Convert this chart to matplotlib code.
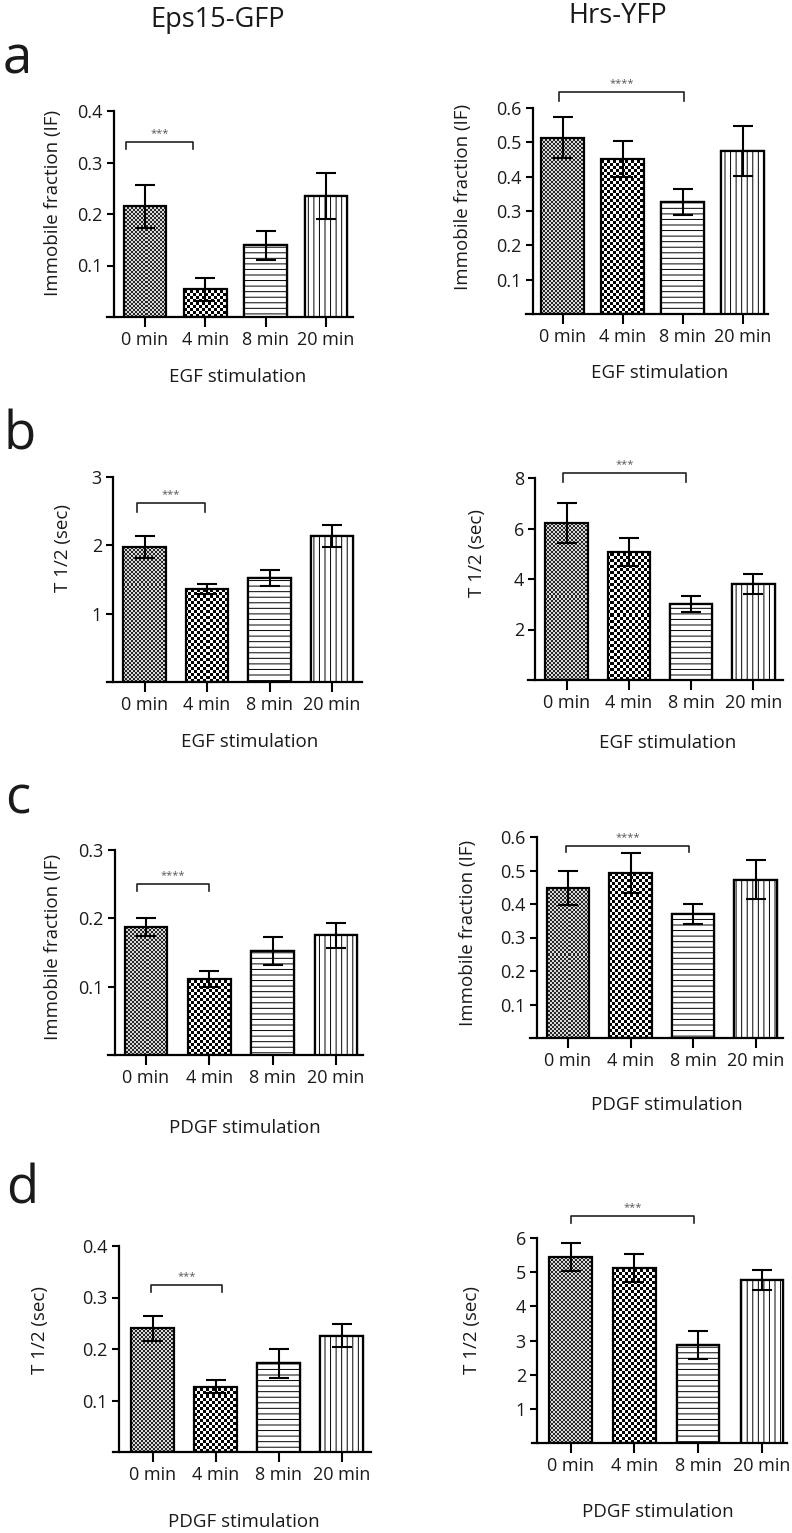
import numpy as np
import matplotlib
matplotlib.use('Agg')
import matplotlib.pyplot as plt

plt.rcParams['font.family'] = ['Open Sans', 'DejaVu Sans']
plt.rcParams['hatch.linewidth'] = 0.7

W, H = 792, 1533

categories = ['0 min', '4 min', '8 min', '20 min']

# panel a: immobile fraction, EGF
a_eps_mean = [0.215, 0.054, 0.139, 0.235]
a_eps_err = [0.042, 0.022, 0.028, 0.044]
a_hrs_mean = [0.513, 0.452, 0.327, 0.475]
a_hrs_err = [0.060, 0.053, 0.038, 0.073]
# panel b: T 1/2, EGF
b_eps_mean = [1.98, 1.36, 1.52, 2.14]
b_eps_err = [0.16, 0.07, 0.12, 0.16]
b_hrs_mean = [6.22, 5.07, 3.01, 3.80]
b_hrs_err = [0.78, 0.57, 0.32, 0.40]
# panel c: immobile fraction, PDGF
c_eps_mean = [0.187, 0.111, 0.152, 0.175]
c_eps_err = [0.013, 0.012, 0.020, 0.018]
c_hrs_mean = [0.448, 0.492, 0.370, 0.472]
c_hrs_err = [0.050, 0.060, 0.030, 0.058]
# panel d: T 1/2, PDGF
d_eps_mean = [0.240, 0.127, 0.172, 0.226]
d_eps_err = [0.025, 0.013, 0.028, 0.023]
d_hrs_mean = [5.44, 5.12, 2.87, 4.77]
d_hrs_err = [0.41, 0.42, 0.42, 0.30]

a_eps_ticks = [0.1, 0.2, 0.3, 0.4]
a_hrs_ticks = [0.1, 0.2, 0.3, 0.4, 0.5, 0.6]
b_eps_ticks = [1, 2, 3]
b_hrs_ticks = [2, 4, 6, 8]
c_eps_ticks = [0.1, 0.2, 0.3]
c_hrs_ticks = [0.1, 0.2, 0.3, 0.4, 0.5, 0.6]
d_eps_ticks = [0.1, 0.2, 0.3, 0.4]
d_hrs_ticks = [1, 2, 3, 4, 5, 6]

# significance brackets: x from, x to, bracket level, leg bottom, stars
a_eps_sig = (-0.32, 0.80, 0.340, 0.326, '***')
a_hrs_sig = (-0.06, 2.02, 0.647, 0.620, '****')
b_eps_sig = (-0.12, 0.96, 2.62, 2.49, '***')
b_hrs_sig = (-0.06, 1.92, 8.20, 7.84, '***')
c_eps_sig = (-0.14, 1.00, 0.250, 0.240, '****')
c_hrs_sig = (-0.03, 1.94, 0.573, 0.555, '****')
d_eps_sig = (-0.02, 1.10, 0.325, 0.310, '***')
d_hrs_sig = (0.00, 1.94, 6.64, 6.43, '***')

fig = plt.figure(figsize=(W / 100, H / 100), dpi=100)
TXT = '#1a1a1a'


def fx(x):
    return x / W


def fy(y):
    return 1 - y / H


def checker(ax, bar, cell, dark, light):
    bb = bar.get_window_extent()
    x0 = np.floor(bb.x0)
    y0 = np.floor(bb.y0)
    ncol = int(np.ceil((bb.x1 - x0) / cell)) + 1
    nrow = int(np.ceil((bb.y1 - y0) / cell)) + 1
    inv = ax.transData.inverted()
    dx0, dy0 = inv.transform((x0, y0))
    dx1, dy1 = inv.transform((x0 + ncol * cell, y0 + nrow * cell))
    pattern = np.where(np.indices((nrow, ncol)).sum(axis=0) % 2, light, dark)
    im = ax.imshow(pattern, cmap='gray', vmin=0, vmax=1,
                   extent=(dx0, dx1, dy0, dy1), origin='lower',
                   aspect='auto', interpolation='nearest', zorder=2)
    im.set_clip_path(bar)


def panel(layout, means, errs, ticks, sig, ylabel, xlabel, ylab_pos, xlab_pos):
    yaxis_x, xstart, xend, y0, ytop_px, ytop_val, c0, sp = layout
    top_px = ytop_px - 14
    ax = fig.add_axes([fx(xstart), fy(y0), (xend - xstart) / W, (y0 - top_px) / H])
    xlim = ((xstart - c0) / sp, (xend - c0) / sp)
    ylim = (0, ytop_val * (y0 - top_px) / (y0 - ytop_px))
    ax.set_xlim(*xlim)
    ax.set_ylim(*ylim)

    x = np.arange(len(categories))
    w = 42.5 / sp
    bars = ax.bar(x, means, width=w, facecolor='none', edgecolor='black',
                  linewidth=1.6, zorder=3)
    checker(ax, bars[0], 2, 0.15, 0.85)
    checker(ax, bars[1], 3, 0.0, 1.0)
    ax.bar(x[2], means[2], width=w, facecolor='white', edgecolor='black',
           linewidth=1.6, hatch='---', zorder=3)
    ax.bar(x[3], means[3], width=w, facecolor='white', edgecolor='black',
           linewidth=1.6, hatch='|||', zorder=3)
    ax.errorbar(x, means, yerr=errs, fmt='none', ecolor='black',
                elinewidth=1.5, capsize=7, capthick=1.5, zorder=4)

    # significance bracket
    s0, s1, lvl, leg, stars = sig
    ax.plot([s0, s0, s1, s1], [leg, lvl, lvl, leg], color='#222222',
            lw=1.2, clip_on=False)
    ax.annotate(stars, ((s0 + s1) / 2, lvl), xytext=(0, 2),
                textcoords='offset points', ha='center', va='bottom',
                fontsize=8, color='#555555', annotation_clip=False)

    ax.set_xlim(*xlim)
    ax.set_ylim(*ylim)
    for s in ['top', 'right']:
        ax.spines[s].set_visible(False)
    ax.spines['left'].set_position(('data', (yaxis_x - c0) / sp))
    ax.spines['left'].set_bounds(0, ytop_val)
    for s in ['left', 'bottom']:
        ax.spines[s].set_linewidth(1.6)
    ax.set_xticks(x)
    ax.set_xticklabels(categories)
    ax.set_yticks(ticks)
    ax.set_yticklabels([str(t) for t in ticks])
    ax.tick_params(axis='x', length=7, width=1.5, pad=3, labelsize=13,
                   labelcolor=TXT)
    ax.tick_params(axis='y', length=5, width=1.5, pad=3, labelsize=13,
                   labelcolor=TXT)

    fig.text(fx(ylab_pos[0]), fy(ylab_pos[1]), ylabel, rotation=90,
             ha='center', va='center', fontsize=13.5, color=TXT)
    fig.text(fx(xlab_pos[0]), fy(xlab_pos[1]), xlabel,
             ha='center', va='center', fontsize=13.5, color=TXT)
    return ax


IF = 'Immobile fraction (IF)'
T12 = 'T 1/2 (sec)'

panel((114, 107, 353, 317, 111, 0.4, 145, 60.3), a_eps_mean, a_eps_err,
      a_eps_ticks, a_eps_sig, IF, 'EGF stimulation', (53, 203), (238, 377))
panel((533, 526, 768, 314, 108, 0.6, 562.5, 60), a_hrs_mean, a_hrs_err,
      a_hrs_ticks, a_hrs_sig, IF, 'EGF stimulation', (463, 197), (660, 373))
panel((113, 107, 362, 682, 477, 3, 144.5, 62.5), b_eps_mean, b_eps_err,
      b_eps_ticks, b_eps_sig, T12, 'EGF stimulation', (63, 548), (250, 742))
panel((535, 528, 783, 680, 478, 8, 566.5, 62.3), b_hrs_mean, b_hrs_err,
      b_hrs_ticks, b_hrs_sig, T12, 'EGF stimulation', (477, 553), (668, 743))
panel((115, 108, 363, 1055, 850, 0.3, 146, 63.3), c_eps_mean, c_eps_err,
      c_eps_ticks, c_eps_sig, IF, 'PDGF stimulation', (53, 947), (245, 1128))
panel((537, 530, 783, 1038, 837, 0.6, 568, 62.5), c_hrs_mean, c_hrs_err,
      c_hrs_ticks, c_hrs_sig, IF, 'PDGF stimulation', (468, 933), (667, 1105))
panel((119, 113, 371, 1452, 1246, 0.4, 152.5, 63), d_eps_mean, d_eps_err,
      d_eps_ticks, d_eps_sig, T12, 'PDGF stimulation', (40, 1330), (244, 1522))
panel((537, 532, 787, 1443, 1238, 6, 570.5, 63.8), d_hrs_mean, d_hrs_err,
      d_hrs_ticks, d_hrs_sig, T12, 'PDGF stimulation', (472, 1330), (658, 1512))

# column titles and panel letters
fig.text(fx(218), fy(27), 'Eps15-GFP', ha='center', va='baseline',
         fontsize=19.5, color=TXT)
fig.text(fx(618), fy(23), 'Hrs-YFP', ha='center', va='baseline',
         fontsize=19.5, color=TXT)
for letter, (lx, ly) in zip('abcd', [(3, 73), (3, 450), (5, 813), (6, 1203)]):
    fig.text(fx(lx), fy(ly), letter, ha='left', va='baseline', fontsize=38,
             color=TXT)

fig.savefig('out.png', dpi=100)
